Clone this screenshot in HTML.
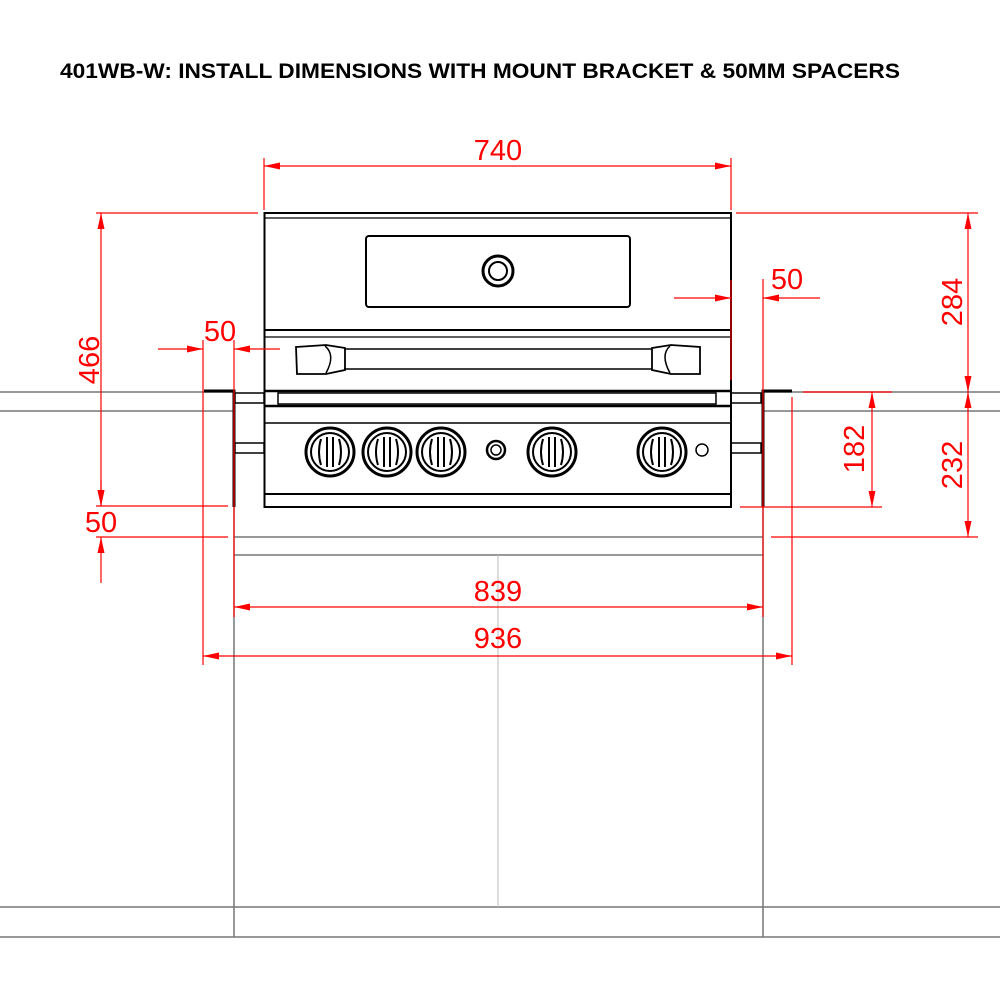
<!DOCTYPE html>
<html><head><meta charset="utf-8"><style>
html,body{margin:0;padding:0;background:#fff;}
svg{display:block;}
text{font-family:"Liberation Sans",sans-serif;}
</style></head><body>
<svg width="1000" height="1000" viewBox="0 0 1000 1000" xmlns="http://www.w3.org/2000/svg">
<defs>
<marker id="a" viewBox="0 0 16 7" refX="16" refY="3.5" markerWidth="16" markerHeight="7" markerUnits="userSpaceOnUse" orient="auto-start-reverse"><path d="M0,0 L16,3.5 L0,7 z" fill="#f00"/></marker>
</defs>
<text x="60" y="78" font-size="21" font-weight="bold" fill="#000" textLength="840" lengthAdjust="spacingAndGlyphs">401WB-W: INSTALL DIMENSIONS WITH MOUNT BRACKET &amp; 50MM SPACERS</text>

<g stroke="#777" stroke-width="1.5" fill="none">
<line x1="0" y1="392" x2="234" y2="392"/><line x1="0" y1="411" x2="234" y2="411"/>
<line x1="763" y1="392" x2="1000" y2="392"/><line x1="763" y1="411" x2="1000" y2="411"/>
<line x1="234" y1="537" x2="763" y2="537"/><line x1="234" y1="555" x2="763" y2="555"/>
<line x1="234" y1="507" x2="234" y2="937"/><line x1="763" y1="507" x2="763" y2="937"/>
<line x1="0" y1="907" x2="1000" y2="907"/><line x1="0" y1="937" x2="1000" y2="937"/>
</g>
<line x1="498" y1="555" x2="498" y2="907" stroke="#bbb" stroke-width="1"/>

<g stroke="#000" fill="none">
<rect x="264.5" y="213" width="466.5" height="294" stroke-width="2"/>
<line x1="264" y1="218" x2="731" y2="218" stroke-width="1.2"/>
<rect x="366" y="236" width="264" height="71" rx="3" stroke-width="2"/>
<circle cx="498" cy="271" r="15" stroke-width="3"/>
<circle cx="498" cy="271" r="9" stroke-width="2"/>
<line x1="264" y1="330" x2="731" y2="330" stroke-width="2"/>
<line x1="264" y1="337" x2="731" y2="337" stroke-width="1.2"/>
<line x1="344" y1="349" x2="652" y2="349" stroke-width="1.5"/>
<line x1="344" y1="369" x2="652" y2="369" stroke-width="1.5"/>
<path d="M296,347 L326,345 L345,348 L345,370 L326,374 L297,374 Z" stroke-width="1.8"/>
<path d="M325,346 Q336,355 326,373" stroke-width="1.5"/>
<path d="M652,348 L671,345 L700,347 L700,374 L671,374 L652,370 Z" stroke-width="1.8"/>
<path d="M670,346 Q660,355 670,373" stroke-width="1.5"/>
<line x1="264" y1="391" x2="731" y2="391" stroke-width="2.5"/>
<rect x="278" y="393" width="438" height="11" stroke-width="1.5"/>
<line x1="264" y1="406" x2="731" y2="406" stroke-width="2.5"/>
<line x1="264" y1="423" x2="731" y2="423" stroke-width="1.5"/>
<line x1="264" y1="494" x2="731" y2="494" stroke-width="2"/>
<rect x="235" y="393" width="29" height="10" stroke-width="1.5"/>
<rect x="235" y="443" width="29" height="10" stroke-width="1.5"/>
<rect x="731" y="393" width="30" height="10" stroke-width="1.5"/>
<rect x="731" y="443" width="30" height="10" stroke-width="1.5"/>
<path d="M204,391 L234,391 L234,507" stroke-width="3"/>
<path d="M792,391 L763,391 L763,507" stroke-width="3"/>
</g>
<g stroke="#000" fill="none">
<g transform="translate(330,452)"><circle r="24" stroke-width="3"/><circle r="19" stroke-width="2"/><path d="M-9,-13 Q-13,0 -9,13 M9,-13 Q13,0 9,13 M-3,-15 L-3,15 M3,-15 L3,15" stroke-width="2"/></g>
<g transform="translate(387,452)"><circle r="24" stroke-width="3"/><circle r="19" stroke-width="2"/><path d="M-9,-13 Q-13,0 -9,13 M9,-13 Q13,0 9,13 M-3,-15 L-3,15 M3,-15 L3,15" stroke-width="2"/></g>
<g transform="translate(441,452)"><circle r="24" stroke-width="3"/><circle r="19" stroke-width="2"/><path d="M-9,-13 Q-13,0 -9,13 M9,-13 Q13,0 9,13 M-3,-15 L-3,15 M3,-15 L3,15" stroke-width="2"/></g>
<g transform="translate(552,452)"><circle r="24" stroke-width="3"/><circle r="19" stroke-width="2"/><path d="M-9,-13 Q-13,0 -9,13 M9,-13 Q13,0 9,13 M-3,-15 L-3,15 M3,-15 L3,15" stroke-width="2"/></g>
<g transform="translate(662,452)"><circle r="24" stroke-width="3"/><circle r="19" stroke-width="2"/><path d="M-9,-13 Q-13,0 -9,13 M9,-13 Q13,0 9,13 M-3,-15 L-3,15 M3,-15 L3,15" stroke-width="2"/></g>
<circle cx="496" cy="450" r="9" stroke-width="2.5"/><circle cx="496" cy="450" r="5" stroke-width="1.5"/>
<circle cx="702" cy="450" r="6" stroke-width="1.5"/>
</g>

<g stroke="#f00" stroke-width="1.2" fill="none">
<line x1="264" y1="158" x2="264" y2="210"/><line x1="731" y1="158" x2="731" y2="210"/>
<line x1="264" y1="166" x2="731" y2="166" marker-start="url(#a)" marker-end="url(#a)"/>
<line x1="96" y1="213" x2="258" y2="213"/><line x1="736" y1="213" x2="978" y2="213"/>
<line x1="101" y1="213" x2="101" y2="506" marker-start="url(#a)" marker-end="url(#a)"/>
<line x1="96" y1="506" x2="228" y2="506"/><line x1="96" y1="537" x2="228" y2="537"/>
<line x1="101" y1="583" x2="101" y2="537" marker-end="url(#a)"/>
<line x1="101" y1="480" x2="101" y2="506" marker-end="url(#a)"/>
<line x1="203" y1="340" x2="203" y2="665"/><line x1="234" y1="340" x2="234" y2="617"/>
<line x1="158" y1="349" x2="203" y2="349" marker-end="url(#a)"/>
<line x1="280" y1="349" x2="234" y2="349" marker-end="url(#a)"/>
<line x1="731" y1="280" x2="731" y2="380"/>
<line x1="763" y1="279" x2="763" y2="617"/><line x1="792" y1="397" x2="792" y2="665"/>
<line x1="674" y1="298" x2="731" y2="298" marker-end="url(#a)"/>
<line x1="820" y1="298" x2="763" y2="298" marker-end="url(#a)"/>
<line x1="803" y1="392" x2="892" y2="392"/>
<line x1="740" y1="507" x2="882" y2="507"/><line x1="771" y1="537" x2="978" y2="537"/>
<line x1="872" y1="392" x2="872" y2="507" marker-start="url(#a)" marker-end="url(#a)"/>
<line x1="968" y1="213" x2="968" y2="392" marker-start="url(#a)" marker-end="url(#a)"/>
<line x1="968" y1="392" x2="968" y2="537" marker-start="url(#a)" marker-end="url(#a)"/>
<line x1="234" y1="607" x2="763" y2="607" marker-start="url(#a)" marker-end="url(#a)"/>
<line x1="203" y1="656" x2="792" y2="656" marker-start="url(#a)" marker-end="url(#a)"/>
</g>
<g fill="#f00" font-size="29">
<text x="498" y="160" text-anchor="middle">740</text>
<text x="220" y="341" text-anchor="middle">50</text>
<text x="787" y="289" text-anchor="middle">50</text>
<text x="101" y="532" text-anchor="middle">50</text>
<text x="498" y="601" text-anchor="middle">839</text>
<text x="498" y="648" text-anchor="middle">936</text>
<text transform="translate(99,360) rotate(-90)" text-anchor="middle">466</text>
<text transform="translate(962,302) rotate(-90)" text-anchor="middle">284</text>
<text transform="translate(962,465) rotate(-90)" text-anchor="middle">232</text>
<text transform="translate(864,449) rotate(-90)" text-anchor="middle">182</text>
</g>
</svg>
</body></html>
